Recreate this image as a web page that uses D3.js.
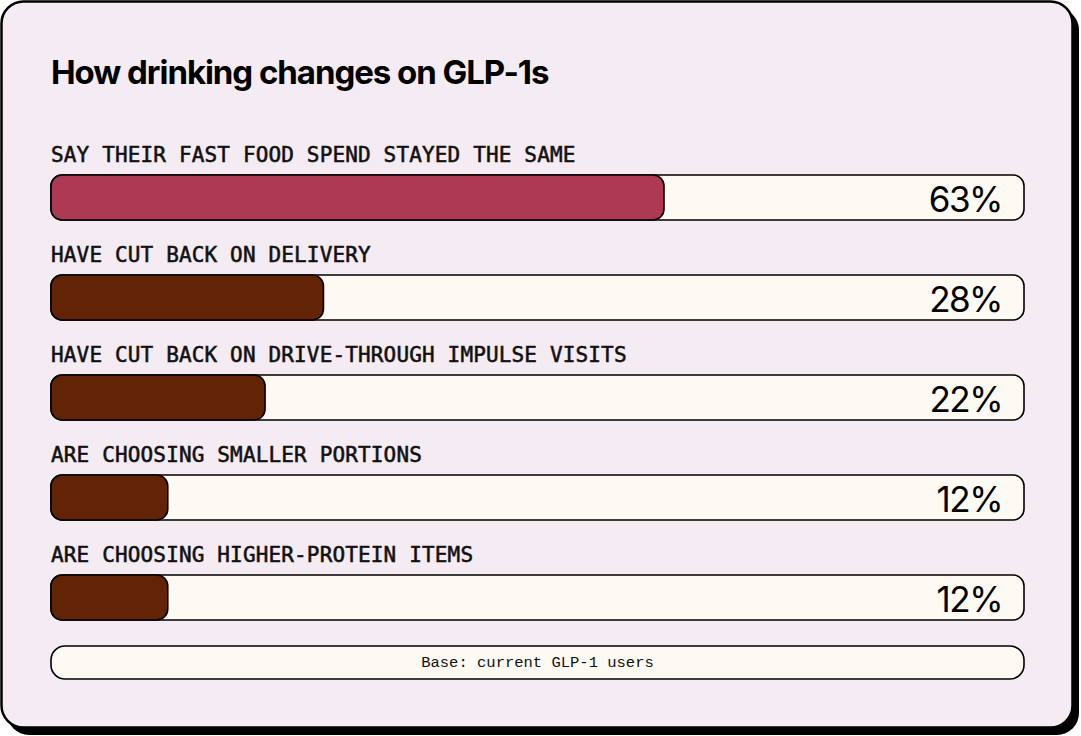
<!DOCTYPE html>
<html lang="en">
<head>
    <meta charset="UTF-8">
    <title>How drinking changes on GLP-1s</title>
    <style>
        body { margin: 0; padding: 0; background: #fff; }
        svg { display: block; }
        .title { font-family: Inter, "Noto Sans", sans-serif; font-weight: 700; font-size: 33px; letter-spacing: -1.05px; fill: #000; }
        .row-label { font-family: "DejaVu Sans Mono", monospace; font-weight: 400; font-size: 21px; letter-spacing: 0.15px; fill: #111; stroke: #111; stroke-width: 0.55px; }
        .pct { font-family: Inter, sans-serif; font-weight: 400; font-size: 35px; letter-spacing: -1.5px; fill: #000; }
        .base { font-family: "Liberation Mono", monospace; font-size: 15.5px; fill: #111; }
    </style>
</head>
<body>
    <div id="chart"></div>

    <script src="https://cdn.jsdelivr.net/npm/d3@7"></script>
    <script>
        // data
        const labels = [
            "SAY THEIR FAST FOOD SPEND STAYED THE SAME",
            "HAVE CUT BACK ON DELIVERY",
            "HAVE CUT BACK ON DRIVE-THROUGH IMPULSE VISITS",
            "ARE CHOOSING SMALLER PORTIONS",
            "ARE CHOOSING HIGHER-PROTEIN ITEMS"
        ];
        const values = [63, 28, 22, 12, 12];
        const title = "How drinking changes on GLP-1s";
        const note = "Base: current GLP-1 users";

        const W = 1081, H = 736;
        const left = 51, right = 1024;
        const rowTop = 130, rowStep = 100;
        const barOffset = 45, barH = 45;

        const svg = d3.select("#chart").append("svg")
            .attr("width", W)
            .attr("height", H);

        // card with hard shadow
        svg.append("rect")
            .attr("x", 7).attr("y", 8)
            .attr("width", 1072).attr("height", 727)
            .attr("rx", 22)
            .attr("fill", "#000");
        svg.append("rect")
            .attr("x", 1.5).attr("y", 1.5)
            .attr("width", 1071).attr("height", 726)
            .attr("rx", 22)
            .attr("fill", "#F5EBF2")
            .attr("stroke", "#000")
            .attr("stroke-width", 2.5);

        svg.append("text")
            .attr("class", "title")
            .attr("x", left)
            .attr("y", 84)
            .text(title);

        const x = d3.scaleLinear()
            .domain([0, 100])
            .range([0, right - left]);

        const y = d3.scaleBand()
            .domain(labels)
            .range([rowTop, rowTop + rowStep * labels.length])
            .padding(0);

        const rows = svg.selectAll(".row")
            .data(labels.map((l, i) => ({ label: l, value: values[i], i: i })))
            .enter().append("g")
            .attr("class", "row")
            .attr("transform", d => "translate(" + left + "," + y(d.label) + ")");

        rows.append("text")
            .attr("class", "row-label")
            .attr("x", 0)
            .attr("y", 32)
            .text(d => d.label);

        // track
        rows.append("rect")
            .attr("x", 0)
            .attr("y", barOffset)
            .attr("width", x(100))
            .attr("height", barH)
            .attr("rx", 11)
            .attr("fill", "#FDFAF3")
            .attr("stroke", "#000")
            .attr("stroke-width", 1.6);

        // value bar
        rows.append("rect")
            .attr("x", 0)
            .attr("y", barOffset)
            .attr("width", d => x(d.value))
            .attr("height", barH)
            .attr("rx", 11)
            .attr("fill", d => d.i === 0 ? "#AD3955" : "#622306")
            .attr("stroke", "#000")
            .attr("stroke-width", 1.6);

        rows.append("text")
            .attr("class", "pct")
            .attr("x", x(100) - 22)
            .attr("y", barOffset + 37)
            .attr("text-anchor", "end")
            .text(d => d.value + "%");

        // footnote pill
        svg.append("rect")
            .attr("x", left)
            .attr("y", 646)
            .attr("width", x(100))
            .attr("height", 33)
            .attr("rx", 14)
            .attr("fill", "#FDFAF3")
            .attr("stroke", "#000")
            .attr("stroke-width", 1.6);

        svg.append("text")
            .attr("class", "base")
            .attr("x", left + x(100) / 2)
            .attr("y", 667)
            .attr("text-anchor", "middle")
            .text(note);
    </script>
</body>
</html>
